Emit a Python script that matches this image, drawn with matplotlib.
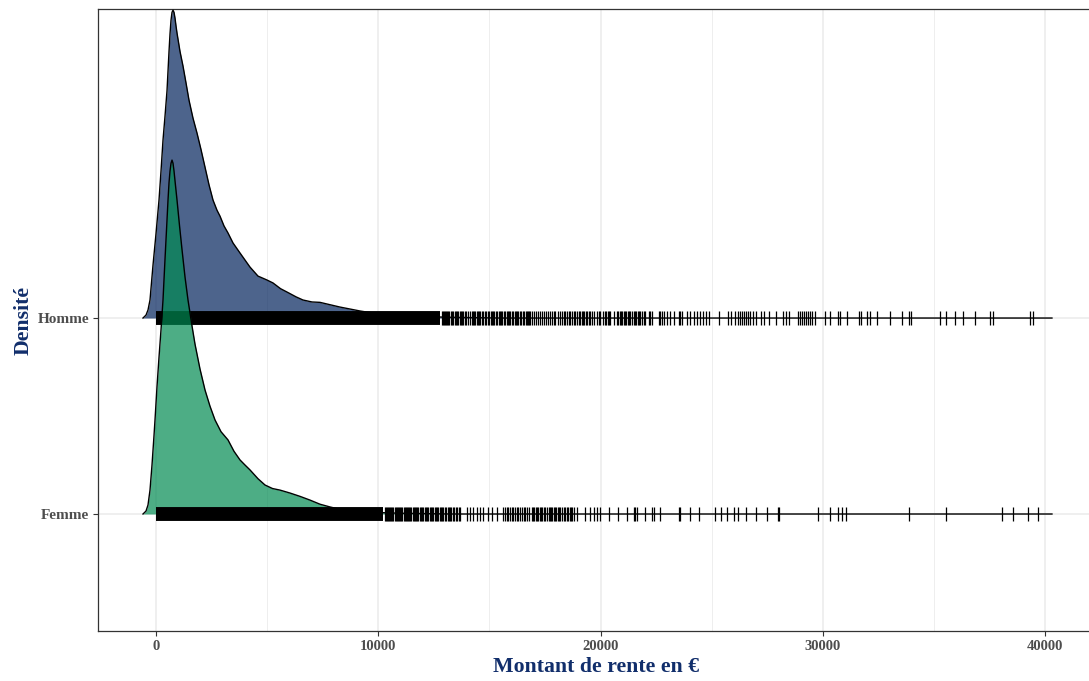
import numpy as np
import matplotlib
matplotlib.use("Agg")
import matplotlib.pyplot as plt

# density profiles (montant en euros, hauteur de la crete)
homme_x = [-585, -450, -360, -270, -135, 0, 135, 225, 315, 405, 495, 585, 630, 675,
           720, 765, 810, 855, 900, 945, 1080, 1214, 1349, 1484, 1664, 1844, 2024,
           2204, 2384, 2564, 2744, 2879, 3059, 3239, 3464, 3778, 4228, 4588, 4993,
           5263, 5600, 5937, 6300, 6612, 7017, 7377, 8276, 9176, 10075, 10975,
           13224, 15473, 40300]
homme_h = [0, 0.015, 0.041, 0.092, 0.27, 0.43, 0.602, 0.75, 0.908, 1.03, 1.16, 1.36,
           1.45, 1.52, 1.56, 1.571, 1.56, 1.53, 1.49, 1.454, 1.36, 1.286, 1.20,
           1.112, 1.02, 0.944, 0.86, 0.77, 0.68, 0.602, 0.55, 0.52, 0.47, 0.434,
           0.383, 0.332, 0.26, 0.214, 0.194, 0.179, 0.15, 0.13, 0.108, 0.092, 0.082,
           0.08, 0.056, 0.036, 0.02, 0.01, 0.004, 0, 0]

femme_x = [-585, -450, -360, -270, -180, -90, -45, 45, 135, 225, 315, 405, 495, 540,
           585, 630, 675, 720, 765, 810, 855, 945, 1059, 1169, 1304, 1439, 1619,
           1754, 1979, 2204, 2429, 2654, 2924, 3239, 3508, 3778, 4003, 4228, 4588,
           4903, 5240, 5577, 6027, 6477, 6927, 7376, 7826, 8276, 8726, 9851, 10975,
           13224, 40300]
femme_h = [0, 0.015, 0.046, 0.122, 0.25, 0.40, 0.48, 0.65, 0.80, 0.94, 1.092, 1.30,
           1.50, 1.602, 1.69, 1.75, 1.79, 1.806, 1.79, 1.75, 1.70, 1.602, 1.47, 1.35,
           1.21, 1.092, 0.96, 0.867, 0.74, 0.633, 0.55, 0.48, 0.42, 0.378, 0.32,
           0.276, 0.25, 0.225, 0.18, 0.148, 0.13, 0.122, 0.107, 0.09, 0.071, 0.05,
           0.036, 0.024, 0.015, 0.008, 0.004, 0, 0]

# montants individuels : zone tres dense (debut, fin) puis valeurs isolees
homme_dense = (0, 12780)
homme_rente = [12870, 12915, 12960, 13005, 13050, 13095, 13140, 13200, 13275, 13320,
               13365, 13430, 13500, 13545, 13590, 13660, 13725, 13770, 13815, 13880,
               13950, 14040, 14130, 14200, 14265, 14310, 14355, 14420, 14490, 14535,
               14580, 14650, 14715, 14780, 14850, 14920, 14985, 15050, 15120, 15165,
               15210, 15280, 15345, 15410, 15480, 15525, 15570, 15640, 15705, 15770,
               15840, 15885, 15930, 16000, 16065, 16130, 16200, 16245, 16290, 16360,
               16425, 16490, 16560, 16620, 16695, 16740, 16785, 16830, 16920, 17010,
               17100, 17190, 17280, 17370, 17460, 17550, 17640, 17730, 17805, 17880,
               17955, 18060, 18180, 18255, 18330, 18405, 18480, 18555, 18630, 18705,
               18780, 18855, 18930, 19005, 19080, 19140, 19200, 19260, 19320, 19390,
               19455, 19530, 19605, 19720, 19830, 19905, 19980, 20090, 20205, 20260,
               20310, 20370, 20430, 20580, 20730, 20790, 20850, 20910, 20970, 21030,
               21090, 21150, 21210, 21270, 21330, 21400, 21480, 21540, 21600, 21660,
               21720, 21790, 21855, 21930, 22005, 22155, 22230, 22305, 22605, 22680,
               22755, 22830, 22980, 23130, 23280, 23505, 23580, 23655, 23880, 24030,
               24180, 24330, 24469, 24604, 24739, 24874, 25324, 25729, 25863, 26043,
               26178, 26268, 26358, 26448, 26538, 26628, 26718, 26853, 26988, 27213,
               27348, 27573, 27888, 28202, 28337, 28472, 28877, 28967, 29057, 29147,
               29237, 29327, 29417, 29507, 29642, 30092, 30317, 30676, 30766, 31081,
               31621, 31711, 31981, 32116, 32431, 33015, 33555, 33870, 33960, 35264,
               35534, 35939, 36299, 36839, 37513, 37648, 39313, 39448]

femme_dense = (0, 10215)
femme_rente = [10305, 10350, 10395, 10440, 10485, 10530, 10575, 10620, 10665, 10730,
               10800, 10845, 10890, 10935, 10980, 11025, 11070, 11140, 11205, 11250,
               11295, 11340, 11385, 11430, 11475, 11540, 11610, 11655, 11700, 11745,
               11790, 11860, 11925, 11970, 12015, 12080, 12150, 12195, 12240, 12310,
               12375, 12420, 12465, 12530, 12600, 12645, 12690, 12760, 12825, 12870,
               12915, 12980, 13050, 13120, 13185, 13230, 13275, 13340, 13410, 13480,
               13545, 13610, 13680, 13980, 14130, 14280, 14430, 14580, 14730, 14955,
               15105, 15330, 15630, 15700, 15780, 15855, 15930, 16005, 16080, 16155,
               16230, 16305, 16380, 16455, 16530, 16605, 16680, 16790, 16905, 16960,
               17010, 17070, 17130, 17190, 17250, 17300, 17355, 17430, 17505, 17580,
               17655, 17710, 17760, 17820, 17880, 17940, 18000, 18060, 18120, 18180,
               18255, 18330, 18405, 18480, 18540, 18600, 18650, 18705, 18820, 18930,
               19305, 19500, 19680, 19830, 19980, 20385, 20760, 21180, 21480, 21555,
               21630, 22005, 22305, 22380, 22680, 23505, 23580, 24030, 24405, 25155,
               25425, 25695, 26010, 26190, 26550, 27000, 27495, 27990, 28035, 29790,
               30330, 30690, 30870, 31050, 33885, 35550, 38070, 38565, 39240, 39690]

groupes = ["Femme", "Homme"]
couleurs = {"Homme": "#02225C", "Femme": "#018A52"}
x_ticks = [0, 10000, 20000, 30000, 40000]
x_labels = ["0", "10000", "20000", "30000", "40000"]

plt.rcParams["font.family"] = ["Liberation Serif", "DejaVu Serif"]

fig = plt.figure(figsize=(10.89, 6.81), dpi=100)
# the panel runs slightly past the right edge of the figure
ax = fig.add_axes([98 / 1089, 50 / 681, 997 / 1089, 622 / 681])

series = {
    "Homme": (homme_x, homme_h, homme_dense, homme_rente),
    "Femme": (femme_x, femme_h, femme_dense, femme_rente),
}

# dessin de l'arriere vers l'avant
z = 3
for g in ["Homme", "Femme"]:
    xs, hs, dense, rente = series[g]
    base = groupes.index(g) + 1
    xs = np.array(xs, dtype=float)
    top = base + np.array(hs)
    ax.fill_between(xs, base, top, color=couleurs[g], alpha=0.7, lw=0, zorder=z)
    ax.plot(xs, top, color="black", lw=1.0, zorder=z + 1)
    ax.plot(list(dense), [base, base], color="black", lw=10,
            solid_capstyle="butt", zorder=z + 2)
    ax.plot(rente, [base] * len(rente), ls="none", marker="|", ms=10, mew=0.9,
            color="black", zorder=z + 2)
    z += 3

ax.set_xlim(-2609, 42236)
ax.set_ylim(0.403, 3.577)

ax.set_xticks(x_ticks)
ax.set_xticklabels(x_labels)
ax.set_xticks([5000, 15000, 25000, 35000], minor=True)
ax.set_yticks([1, 2])
ax.set_yticklabels(groupes)

ax.grid(True, which="major", color="#EBEBEB", lw=1.1, zorder=0)
ax.grid(True, which="minor", axis="x", color="#EBEBEB", lw=0.6, zorder=0)
ax.set_axisbelow(True)

for lab in ax.get_xticklabels():
    lab.set_fontweight("bold")
    lab.set_fontsize(10.5)
    lab.set_color("#4D4D4D")
for lab in ax.get_yticklabels():
    lab.set_fontweight("bold")
    lab.set_fontsize(11)
    lab.set_color("#4D4D4D")
ax.tick_params(which="major", length=3.5, width=0.8, color="#333333", pad=3)
ax.tick_params(which="minor", length=0)

for side in ["left", "bottom", "top", "right"]:
    ax.spines[side].set_color("#333333")
    ax.spines[side].set_linewidth(0.9)

ax.set_xlabel("Montant de rente en €", fontsize=15.7, fontweight="bold",
              color="#112E6B", labelpad=3)
ax.set_ylabel("Densité", fontsize=15.7, fontweight="bold", color="#112E6B",
              labelpad=3)

fig.savefig("out.png", dpi=100)
